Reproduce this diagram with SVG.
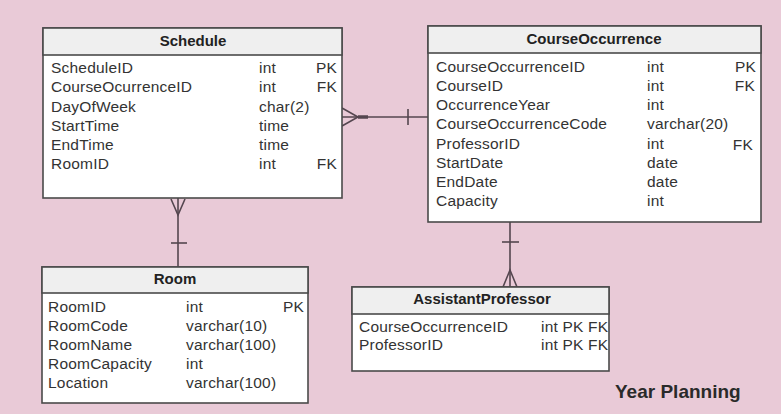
<svg xmlns="http://www.w3.org/2000/svg" width="781" height="414" viewBox="0 0 781 414">
<style>
.box{fill:#ffffff;stroke:#4a4a4a;stroke-width:1.6}
.hdr{fill:#efefef;stroke:#4a4a4a;stroke-width:1.6}
.sep{stroke:#777;stroke-width:1.5}
.t{font-family:"Liberation Sans",Arial,sans-serif;font-size:15.5px;fill:#333;letter-spacing:0.2px}
.h{font-family:"Liberation Sans",Arial,sans-serif;font-size:15px;font-weight:bold;fill:#222;text-anchor:middle}
.k{text-anchor:end}
.c{fill:none;stroke:#54464f;stroke-width:1.6}
.title{font-family:"Liberation Sans",Arial,sans-serif;font-size:19px;font-weight:bold;fill:#2a2a2a}
</style>
<rect width="781" height="414" fill="#e9cad7"/>
<g id="connectors">
<path class="c" d="M342,117 H428"/>
<path class="c" d="M342,108 L358,117 L342,126"/>
<path d="M358,117 H368" stroke="#54464f" stroke-width="3.5"/>
<path class="c" d="M408,109 V125"/>
<path class="c" d="M178,198 V267"/>
<path class="c" d="M171,199 L178,215 L185,199"/>
<path class="c" d="M171,243 H187"/>
<path class="c" d="M510,222 V287"/>
<path class="c" d="M502,242 H519"/>
<path class="c" d="M503,287 L510,270 L517,287"/>
</g>
<g id="schedule">
<rect class="box" x="43" y="28" width="299" height="170"/>
<rect class="hdr" x="43" y="28" width="299" height="27"/>
<text class="h" x="193" y="46">Schedule</text>
<text class="t" x="51" y="73">ScheduleID</text><text class="t" x="259" y="73">int</text><text class="t k" x="337" y="73">PK</text>
<text class="t" x="51" y="92">CourseOcurrenceID</text><text class="t" x="259" y="92">int</text><text class="t k" x="337" y="92">FK</text>
<text class="t" x="51" y="112">DayOfWeek</text><text class="t" x="259" y="112">char(2)</text>
<text class="t" x="51" y="131">StartTime</text><text class="t" x="259" y="131">time</text>
<text class="t" x="51" y="150">EndTime</text><text class="t" x="259" y="150">time</text>
<text class="t" x="51" y="169">RoomID</text><text class="t" x="259" y="169">int</text><text class="t k" x="337" y="169">FK</text>
</g>
<g id="courseoccurrence">
<rect class="box" x="428" y="26" width="333" height="196"/>
<rect class="hdr" x="428" y="26" width="333" height="27"/>
<text class="h" x="594" y="44">CourseOccurrence</text>
<text class="t" x="436" y="72">CourseOccurrenceID</text><text class="t" x="647" y="72">int</text><text class="t k" x="756" y="72">PK</text>
<text class="t" x="436" y="91">CourseID</text><text class="t" x="647" y="91">int</text><text class="t k" x="755" y="91">FK</text>
<text class="t" x="436" y="110">OccurrenceYear</text><text class="t" x="647" y="110">int</text>
<text class="t" x="436" y="129">CourseOccurrenceCode</text><text class="t" x="647" y="129">varchar(20)</text>
<text class="t" x="436" y="149">ProfessorID</text><text class="t" x="647" y="149">int</text><text class="t k" x="753" y="150">FK</text>
<text class="t" x="436" y="168">StartDate</text><text class="t" x="647" y="168">date</text>
<text class="t" x="436" y="187">EndDate</text><text class="t" x="647" y="187">date</text>
<text class="t" x="436" y="206">Capacity</text><text class="t" x="647" y="206">int</text>
</g>
<g id="room">
<rect class="box" x="42" y="267" width="266" height="136"/>
<rect class="hdr" x="42" y="267" width="266" height="26"/>
<text class="h" x="175" y="284">Room</text>
<text class="t" x="48" y="312">RoomID</text><text class="t" x="186" y="312">int</text><text class="t k" x="304" y="312">PK</text>
<text class="t" x="48" y="331">RoomCode</text><text class="t" x="186" y="331">varchar(10)</text>
<text class="t" x="48" y="350">RoomName</text><text class="t" x="186" y="350">varchar(100)</text>
<text class="t" x="48" y="369">RoomCapacity</text><text class="t" x="186" y="369">int</text>
<text class="t" x="48" y="388">Location</text><text class="t" x="186" y="388">varchar(100)</text>
</g>
<g id="assistantprofessor">
<rect class="box" x="352" y="287" width="257" height="84"/>
<rect class="hdr" x="352" y="287" width="257" height="27"/>
<text class="h" x="482" y="304">AssistantProfessor</text>
<text class="t" x="359" y="332">CourseOccurrenceID</text><text class="t" x="541" y="332">int PK FK</text>
<text class="t" x="359" y="350">ProfessorID</text><text class="t" x="541" y="350">int PK FK</text>
</g>
<text class="title" x="615" y="398">Year Planning</text>
</svg>
